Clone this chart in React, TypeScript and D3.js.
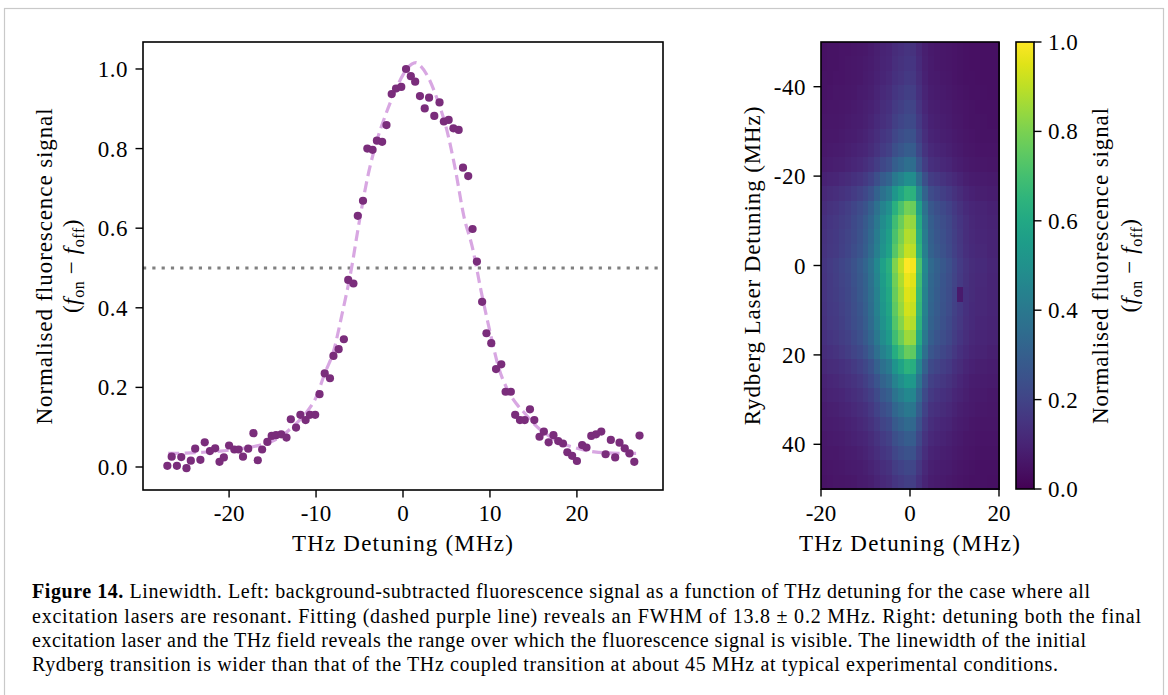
import React from "react";
import * as d3 from "d3";

// ---------- Left panel: measured points ----------
const scatterX = [
  -27.1, -26.6, -26.0, -25.5, -24.9, -24.4, -23.9, -23.3, -22.8, -22.2, -21.6, -21.1, -20.6, -20.0,
  -19.4, -18.9, -18.4, -17.8, -17.2, -16.7, -16.2, -15.6, -15.1, -14.6, -14.0, -13.4, -12.9, -12.3,
  -11.8, -11.2, -10.7, -10.1, -9.6, -9.0, -8.4, -8.0, -7.4, -6.8, -6.3, -5.7, -5.2, -4.6, -4.1, -3.5,
  -3.0, -2.4, -1.9, -1.3, -0.8, -0.2, 0.35, 0.9, 1.4, 1.95, 2.5, 3.0, 3.6, 4.2, 4.7, 5.25, 5.8, 6.4,
  6.9, 7.5, 8.0, 8.5, 9.1, 9.6, 10.15, 10.7, 11.3, 11.8, 12.4, 12.9, 13.45, 14.0, 14.6, 15.1, 15.7,
  16.2, 16.75, 17.3, 17.85, 18.4, 18.9, 19.45, 20.0, 20.6, 21.1, 21.65, 22.2, 22.8, 23.3, 23.9, 24.4,
  24.9, 25.5, 26.05, 26.6, 27.2,
];
const scatterY = [
  0.003, 0.026, 0.003, 0.025, -0.003, 0.016, 0.046, 0.018, 0.062, 0.04, 0.047, 0.013, 0.024, 0.054,
  0.044, 0.044, 0.026, 0.046, 0.085, 0.017, 0.044, 0.063, 0.078, 0.08, 0.082, 0.074, 0.12, 0.099,
  0.131, 0.118, 0.131, 0.131, 0.183, 0.235, 0.223, 0.279, 0.296, 0.321, 0.47, 0.461, 0.631, 0.669,
  0.8, 0.797, 0.82, 0.817, 0.859, 0.937, 0.951, 0.955, 1.0, 0.982, 0.968, 0.932, 0.901, 0.928, 0.882,
  0.916, 0.868, 0.872, 0.851, 0.847, 0.752, 0.731, 0.598, 0.516, 0.415, 0.336, 0.311, 0.246, 0.258,
  0.189, 0.189, 0.131, 0.118, 0.118, 0.145, 0.118, 0.076, 0.089, 0.062, 0.08, 0.065, 0.059, 0.037,
  0.028, 0.015, 0.055, 0.049, 0.078, 0.082, 0.089, 0.032, 0.068, 0.024, 0.061, 0.047, 0.034, 0.013,
  0.079,
];

// ---------- Left panel: fitted curve ----------
const fitX = [
  -27, -25, -23, -21, -19, -17, -15, -14, -13, -12, -11, -10, -9, -8, -7, -6, -5, -4, -3, -2, -1, 0,
  1, 1.5, 2, 3, 4, 5, 6, 7, 8, 9, 10, 11, 12, 13, 14, 15, 16, 17, 18, 20, 22, 24, 27,
];
const fitY = [
  0.034, 0.035, 0.037, 0.04, 0.045, 0.052, 0.065, 0.077, 0.095, 0.115, 0.14, 0.175, 0.235, 0.29,
  0.385, 0.49, 0.62, 0.735, 0.82, 0.885, 0.94, 0.985, 1.012, 1.016, 1.008, 0.975, 0.92, 0.85, 0.75,
  0.63, 0.55, 0.44, 0.34, 0.25, 0.195, 0.16, 0.135, 0.11, 0.09, 0.075, 0.062, 0.047, 0.038, 0.035,
  0.034,
];
const halfMax = 0.5;

const leftXTicks = [-20, -10, 0, 10, 20];
const leftYTicks = [0.0, 0.2, 0.4, 0.6, 0.8, 1.0];

// ---------- Right panel: heat map profiles ----------
// rows: Rydberg laser detuning -50 -> 50 (31 rows); cols: THz detuning -20 -> 20 (30 cols)
const heatRowProfile = [
  0.12, 0.13, 0.14, 0.16, 0.18, 0.2, 0.23, 0.27, 0.34, 0.48, 0.64, 0.78, 0.85, 0.88, 0.91, 1.0,
  0.97, 0.95, 0.93, 0.9, 0.85, 0.76, 0.63, 0.53, 0.45, 0.38, 0.32, 0.27, 0.23, 0.19, 0.16,
];
const heatColProfile = [
  0.13, 0.15, 0.16, 0.18, 0.2, 0.23, 0.26, 0.3, 0.36, 0.45, 0.55, 0.62, 0.8, 0.9, 1.0, 0.98, 0.7,
  0.45, 0.32, 0.28, 0.25, 0.22, 0.18, 0.15, 0.12, 0.1, 0.09, 0.09, 0.08, 0.08,
];
const heatBackground = 0.03;
const heatOverrides = [{ row: 17, col: 23, value: 0.07 }];
const heatXRange = [-20, 20];
const heatYRange = [-50, 50];
const heatXTicks = [-20, 0, 20];
const heatYTicks = [-40, -20, 0, 20, 40];
const cbTicks = [0.0, 0.2, 0.4, 0.6, 0.8, 1.0];

const captionBold = "Figure 14.";
const captionLines = [
  " Linewidth. Left: background-subtracted fluorescence signal as a function of THz detuning for the case where all",
  "excitation lasers are resonant. Fitting (dashed purple line) reveals an FWHM of 13.8 \u00b1 0.2 MHz. Right: detuning both the final",
  "excitation laser and the THz field reveals the range over which the fluorescence signal is visible. The linewidth of the initial",
  "Rydberg transition is wider than that of the THz coupled transition at about 45 MHz at typical experimental conditions.",
];
const captionWidths = [1058, 1109, 1054, 1026];

const FONT = "'Liberation Serif', 'Times New Roman', serif";
const FS = 23;

function FLabel({ x, y }: { x: number; y: number }) {
  return (
    <text
      transform={`translate(${x},${y}) rotate(-90)`}
      textAnchor="middle"
      fontFamily={FONT}
      fontSize={FS}
      letterSpacing={0.6}
    >
      (<tspan fontStyle="italic">f</tspan>
      <tspan fontSize={16} dy={5}>on</tspan>
      <tspan dy={-5}> {"\u2212"} </tspan>
      <tspan fontStyle="italic">f</tspan>
      <tspan fontSize={16} dy={5}>off</tspan>
      <tspan dy={-5}>)</tspan>
    </text>
  );
}

export default function App() {
  // left panel scales
  const L = { x0: 143, x1: 663, y0: 42, y1: 490 };
  const xs = d3.scaleLinear().domain([-29.9, 29.9]).range([L.x0, L.x1]);
  const ys = d3.scaleLinear().domain([-0.0578, 1.0678]).range([L.y1, L.y0]);
  const fitLine = d3
    .line<number>()
    .x((_, i) => xs(fitX[i]))
    .y((d) => ys(d))
    .curve(d3.curveMonotoneX)(fitY) as string;

  // heat map
  const H = { x0: 821, x1: 999, y0: 42, y1: 489 };
  const hx = d3.scaleLinear().domain(heatXRange).range([H.x0, H.x1]);
  const hy = d3.scaleLinear().domain(heatYRange).range([H.y0, H.y1]);
  const nRows = heatRowProfile.length;
  const nCols = heatColProfile.length;
  const dxv = (heatXRange[1] - heatXRange[0]) / nCols;
  const dyv = (heatYRange[1] - heatYRange[0]) / nRows;
  const cells: { r: number; c: number; v: number }[] = [];
  heatRowProfile.forEach((rv, r) => {
    heatColProfile.forEach((cv, c) => {
      let v = heatBackground + (1 - heatBackground) * rv * cv;
      const o = heatOverrides.find((k) => k.row === r && k.col === c);
      if (o) v = o.value;
      cells.push({ r, c, v });
    });
  });
  const color = d3.scaleSequential(d3.interpolateViridis).domain([0, 1]);

  // colorbar
  const C = { x0: 1016, x1: 1034, y0: 42, y1: 489 };
  const cy = d3.scaleLinear().domain([0, 1]).range([C.y1, C.y0]);
  const gradStops = d3.range(0, 1.0001, 0.05);

  const tickLen = 7.5;
  const axisColor = "#000";

  return (
    <svg
      width={1168}
      height={695}
      style={{ position: "absolute", left: 0, top: 0, background: "#fff" }}
      fontFamily={FONT}
    >
      <defs>
        <linearGradient id="cbgrad" x1="0" y1="1" x2="0" y2="0">
          {gradStops.map((t) => (
            <stop key={t} offset={t} stopColor={color(t)} />
          ))}
        </linearGradient>
      </defs>
      <rect x={0} y={0} width={1168} height={695} fill="#fff" />
      <rect x={4.5} y={8.5} width={1159} height={720} fill="none" stroke="#c9c9c9" strokeWidth={1.2} />

      {/* ---------------- Left panel ---------------- */}
      <line
        x1={L.x0}
        x2={L.x1}
        y1={ys(halfMax)}
        y2={ys(halfMax)}
        stroke="#808080"
        strokeWidth={2.8}
        strokeDasharray="3.2,6.1"
      />
      <path d={fitLine} fill="none" stroke="#d8a7e2" strokeWidth={3.2} strokeDasharray="11,5.5" />
      {scatterX.map((x, i) => (
        <circle key={i} cx={xs(x)} cy={ys(scatterY[i])} r={4.1} fill="#7a2d7b" />
      ))}
      <rect
        x={L.x0}
        y={L.y0}
        width={L.x1 - L.x0}
        height={L.y1 - L.y0}
        fill="none"
        stroke={axisColor}
        strokeWidth={1.6}
      />
      {leftXTicks.map((t) => (
        <g key={t}>
          <line x1={xs(t)} x2={xs(t)} y1={L.y1} y2={L.y1 + tickLen} stroke={axisColor} strokeWidth={1.4} />
          <text x={xs(t)} y={L.y1 + 31} textAnchor="middle" fontSize={FS}>
            {String(t)}
          </text>
        </g>
      ))}
      {leftYTicks.map((t) => (
        <g key={t}>
          <line x1={L.x0 - tickLen} x2={L.x0} y1={ys(t)} y2={ys(t)} stroke={axisColor} strokeWidth={1.4} />
          <text x={L.x0 - 15} y={ys(t)} dy="0.35em" textAnchor="end" fontSize={FS} letterSpacing={0.5}>
            {d3.format(".1f")(t)}
          </text>
        </g>
      ))}
      <text x={(L.x0 + L.x1) / 2} y={551} textAnchor="middle" fontSize={FS} letterSpacing={1.2}>
        THz Detuning (MHz)
      </text>
      <text
        transform={`translate(52,${(L.y0 + L.y1) / 2}) rotate(-90)`}
        textAnchor="middle"
        fontSize={FS}
        letterSpacing={0.9}
      >
        Normalised fluorescence signal
      </text>
      <FLabel x={79} y={(L.y0 + L.y1) / 2} />

      {/* ---------------- Heat map ---------------- */}
      <g shapeRendering="crispEdges">
        {cells.map((d) => {
          const x0 = hx(heatXRange[0] + d.c * dxv);
          const x1 = hx(heatXRange[0] + (d.c + 1) * dxv);
          const y0 = hy(heatYRange[0] + d.r * dyv);
          const y1 = hy(heatYRange[0] + (d.r + 1) * dyv);
          return (
            <rect
              key={`${d.r}-${d.c}`}
              x={x0}
              y={y0}
              width={x1 - x0 + 0.5}
              height={y1 - y0 + 0.5}
              fill={color(d.v)}
            />
          );
        })}
      </g>
      <rect
        x={H.x0}
        y={H.y0}
        width={H.x1 - H.x0}
        height={H.y1 - H.y0}
        fill="none"
        stroke={axisColor}
        strokeWidth={1.6}
      />
      {heatXTicks.map((t) => (
        <g key={t}>
          <line x1={hx(t)} x2={hx(t)} y1={H.y1} y2={H.y1 + tickLen} stroke={axisColor} strokeWidth={1.4} />
          <text x={hx(t)} y={H.y1 + 32} textAnchor="middle" fontSize={FS}>
            {String(t)}
          </text>
        </g>
      ))}
      {heatYTicks.map((t) => (
        <g key={t}>
          <line x1={H.x0 - tickLen} x2={H.x0} y1={hy(t)} y2={hy(t)} stroke={axisColor} strokeWidth={1.4} />
          <text x={H.x0 - 15} y={hy(t)} dy="0.35em" textAnchor="end" fontSize={FS} letterSpacing={0.5}>
            {String(t)}
          </text>
        </g>
      ))}
      <text x={(H.x0 + H.x1) / 2} y={551} textAnchor="middle" fontSize={FS} letterSpacing={1.2}>
        THz Detuning (MHz)
      </text>
      <text
        transform={`translate(760,${(H.y0 + H.y1) / 2}) rotate(-90)`}
        textAnchor="middle"
        fontSize={FS}
        letterSpacing={0.9}
      >
        Rydberg Laser Detuning (MHz)
      </text>

      {/* ---------------- Colour bar ---------------- */}
      <rect x={C.x0} y={C.y0} width={C.x1 - C.x0} height={C.y1 - C.y0} fill="url(#cbgrad)" />
      <rect
        x={C.x0}
        y={C.y0}
        width={C.x1 - C.x0}
        height={C.y1 - C.y0}
        fill="none"
        stroke={axisColor}
        strokeWidth={1.6}
      />
      {cbTicks.map((t) => (
        <g key={t}>
          <line x1={C.x1} x2={C.x1 + tickLen} y1={cy(t)} y2={cy(t)} stroke={axisColor} strokeWidth={1.4} />
          <text x={C.x1 + 14} y={cy(t)} dy="0.35em" textAnchor="start" fontSize={FS} letterSpacing={0.5}>
            {d3.format(".1f")(t)}
          </text>
        </g>
      ))}
      <text
        transform={`translate(1108,${(C.y0 + C.y1) / 2}) rotate(-90)`}
        textAnchor="middle"
        fontSize={FS}
        letterSpacing={0.9}
      >
        Normalised fluorescence signal
      </text>
      <FLabel x={1137} y={(C.y0 + C.y1) / 2} />

      {/* ---------------- Caption ---------------- */}
      <text x={32} y={598} fontSize={20} textLength={captionWidths[0]} lengthAdjust="spacing">
        <tspan fontWeight="bold">{captionBold}</tspan>
        <tspan>{captionLines[0]}</tspan>
      </text>
      {captionLines.slice(1).map((line, i) => (
        <text
          key={i}
          x={32}
          y={622.5 + i * 24.3}
          fontSize={20}
          textLength={captionWidths[i + 1]}
          lengthAdjust="spacing"
        >
          {line}
        </text>
      ))}
    </svg>
  );
}
